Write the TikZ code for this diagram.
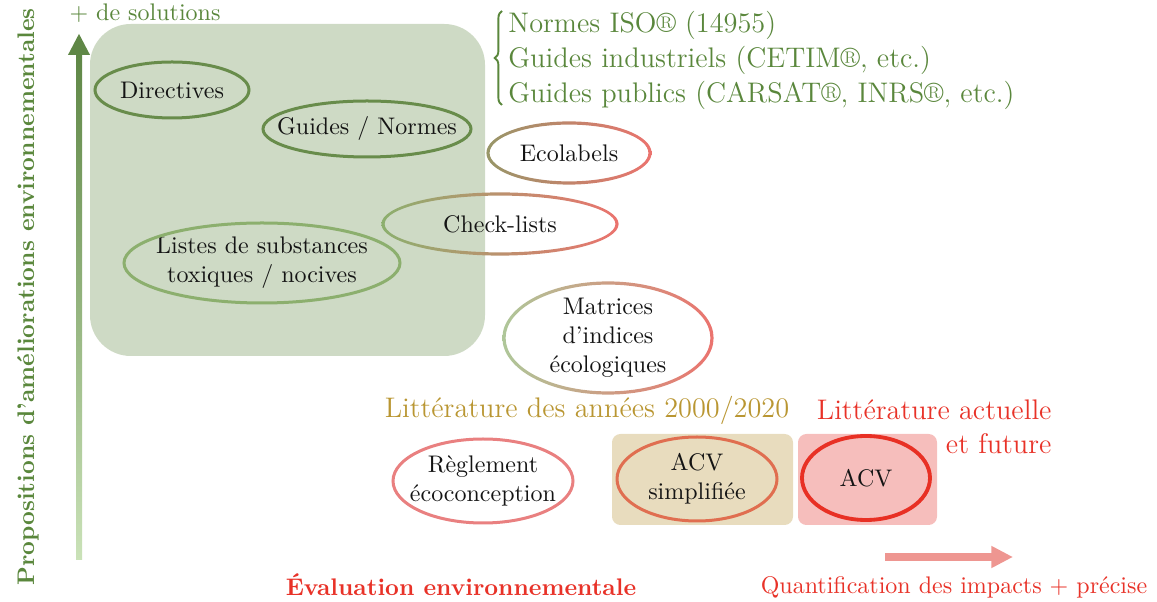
\documentclass[tikz,border=0pt]{standalone}
\usepackage{fontspec}
\usetikzlibrary{arrows.meta,decorations.pathreplacing}

\definecolor{boxgreen}{HTML}{CEDAC5}
\definecolor{darkgreen}{HTML}{688C4B}
\definecolor{lightgreen}{HTML}{8CAF6E}
\definecolor{textgreen}{HTML}{5A873C}
\definecolor{axisgreen}{HTML}{5F8746}
\definecolor{axispale}{HTML}{CAE2B8}
\definecolor{gold}{HTML}{B99632}
\definecolor{textred}{HTML}{E83228}
\definecolor{pinkred}{HTML}{E98080}
\definecolor{orangered}{HTML}{E06E50}
\definecolor{acvred}{HTML}{E83024}
\definecolor{tan}{HTML}{E8DCBE}
\definecolor{pink}{HTML}{F6BEBC}
\definecolor{arrowred}{HTML}{EE9691}
\definecolor{ringred}{HTML}{EB736E}
\definecolor{olive}{HTML}{979668}

% ellipse outline going from one colour to another
\newcommand{\shadedring}[5]{%
  \shade[left color=#4, right color=#5, even odd rule]
    (#1) ellipse [x radius=#2+1.6, y radius=#3+1.6]
    (#1) ellipse [x radius=#2-1.6, y radius=#3-1.6];}

\begin{document}
\begin{tikzpicture}[x=0.4166pt, y=-0.4166pt,
    item/.style={inner sep=0pt, align=center, text=black!92},
    big/.style={inner sep=0pt, font=\fontsize{11.8}{14.2}\selectfont},
    ring/.style={line width=1.25pt}]
  \useasboundingbox (0,0) rectangle (1157,602);

  % solutions box
  \fill[boxgreen, rounded corners=17pt] (90,24) rectangle (485,356);
  \fill[tan, rounded corners=3.5pt] (612,434) rectangle (793,525);
  \fill[pink, rounded corners=3.5pt] (798,434) rectangle (937,525);

  % vertical axis
  \coordinate (ybot) at (79,560);
  \coordinate (ytop) at (79,55);
  \shade[top color=axisgreen, bottom color=axispale]
    ([xshift=-1.25pt]ybot) rectangle ([xshift=1.25pt]ytop);
  \fill[axisgreen] ([xshift=-4.6pt]ytop) -- ([xshift=4.6pt]ytop)
    -- ([yshift=8.8pt]ytop) -- cycle;
  \node[inner sep=0pt, text=textgreen] (plus) at (145,13) {+ de solutions};
  \node[inner sep=0pt, rotate=90, text=textgreen, font=\bfseries] (yaxis) at (28,297)
    {Propositions d’améliorations environnementales};

  % horizontal axis
  \coordinate (xleft) at (885,557);
  \coordinate (xright) at (1013,557);
  \draw[arrowred, line width=3.3pt, -{Triangle[length=9pt, width=8.6pt]}] (xleft) -- (xright);
  \node[inner sep=0pt, text=textred, font=\bfseries] (xaxis) at (461,585)
    {Évaluation environnementale};
  \node[inner sep=0pt, text=textred] (quanti) at (954,587)
    {Quantification des impacts + précise};

  % tools
  \node[item] (dir) at (172,90) {Directives};
  \node[item] (guides) at (367,129) {Guides / Normes};
  \node[item] (listes) at (262,263) {Listes de substances\\toxiques / nocives};
  \node[item] (eco) at (569,153) {Ecolabels};
  \node[item] (check) at (500,224) {Check-lists};
  \node[item] (mat) at (608,338) {Matrices\\d’indices\\écologiques};
  \node[item] (regl) at (483,481) {Règlement\\écoconception};
  \node[item] (acvs) at (697,479) {ACV\\simplifiée};
  \node[item] (acv) at (866,478) {ACV};

  \draw[ring, darkgreen] (dir) ellipse [x radius=77, y radius=28];
  \draw[ring, darkgreen] (guides) ellipse [x radius=104, y radius=28];
  \draw[ring, lightgreen] (listes) ellipse [x radius=138, y radius=40];
  \shadedring{eco}{81}{30}{olive}{ringred}
  \shadedring{check}{117}{30}{lightgreen}{ringred}
  \shadedring{mat}{104}{55}{lightgreen!70}{ringred}
  \draw[ring, pinkred] (regl) ellipse [x radius=90, y radius=42];
  \draw[ring, orangered] (acvs) ellipse [x radius=80, y radius=42];
  \draw[ring, acvred, line width=1.6pt] (acv) ellipse [x radius=64, y radius=42];

  % references
  \node[big, anchor=base west, text=textgreen] (iso) at (508,33) {Normes ISO® (14955)};
  \node[big, anchor=base west, text=textgreen] (indus) at (508,68) {Guides industriels (CETIM®, etc.)};
  \node[big, anchor=base west, text=textgreen] (publ) at (508,103) {Guides publics (CARSAT®, INRS®, etc.)};
  \draw[textgreen, line width=0.8pt, decorate, decoration={brace, amplitude=3pt}]
    (502,105) -- (502,11);

  \node[big, text=gold] (lit1) at (587,410) {Littérature des années 2000/2020};
  \node[big, text=textred, align=right, anchor=east] (lit2) at (1052,427)
    {Littérature actuelle\\et future};
\end{tikzpicture}
\end{document}
